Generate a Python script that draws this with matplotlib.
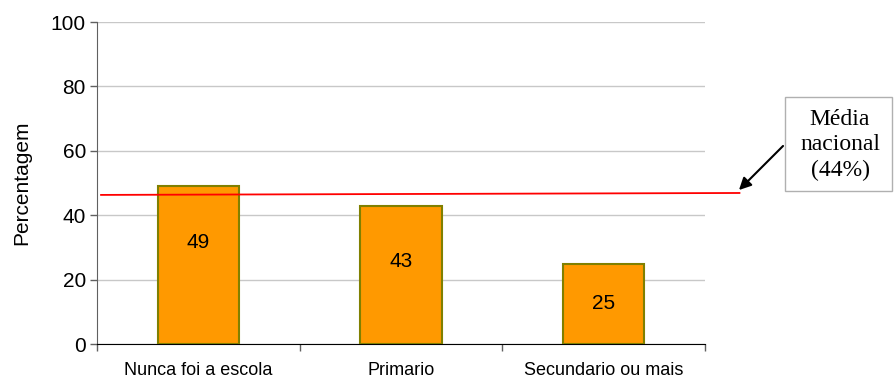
import numpy as np
import matplotlib.pyplot as plt
from matplotlib.patches import FancyArrowPatch, Rectangle

# data
categories = ['Nunca foi a escola', 'Primario', 'Secundario ou mais']
values = [49, 43, 25]
national_line_x = [-0.48, 2.67]
national_line_y = [46.3, 46.9]
box_text = 'Média\nnacional\n(44%)'

plt.rcParams['font.family'] = ['Liberation Sans', 'DejaVu Sans']

fig = plt.figure(figsize=(8.94, 3.83), dpi=100)
ax = fig.add_axes([97 / 894, 39 / 383, 608 / 894, 322 / 383])

x = np.arange(len(categories))
ax.bar(x, values, width=0.4, color='#FF9900', edgecolor='#808000', linewidth=1.5, zorder=3)

# value labels inside bars
for xi, v in zip(x, values):
    ax.text(xi, max(v - 17.5, v / 2), str(v), ha='center', va='center', fontsize=15, zorder=4)

# national average line, running past the plot edge
ax.plot(national_line_x, national_line_y, color='red', linewidth=1.3, clip_on=False, zorder=5)

ax.set_xlim(-0.5, 2.5)
ax.set_ylim(0, 100)
ax.set_yticks(range(0, 101, 20))
ax.tick_params(axis='y', labelsize=15, length=5, width=1, color='#606060', pad=3)
ax.yaxis.grid(True, color='#C8C8C8', linewidth=1)
ax.set_axisbelow(True)

# category labels between boundary ticks
ax.set_xticks([-0.5, 0.5, 1.5, 2.5])
ax.set_xticklabels([])
ax.set_xticks(x, minor=True)
ax.set_xticklabels(categories, minor=True, fontsize=13)
ax.tick_params(axis='x', which='major', length=5, width=1, color='#606060')
ax.tick_params(axis='x', which='minor', length=0, pad=13)

ax.set_ylabel('Percentagem', fontsize=15, labelpad=14)

for s in ['top', 'right']:
    ax.spines[s].set_visible(False)
ax.spines['left'].set_color('#606060')
ax.spines['bottom'].set_color('black')

# annotation box on the right
fig.patches.append(Rectangle((785 / 894, 1 - 191 / 383), 107 / 894, 94 / 383,
                             transform=fig.transFigure, facecolor='white',
                             edgecolor='#B0B0B0', linewidth=1))
fig.text(840 / 894, 1 - 145 / 383, box_text, ha='center', va='center',
         family='Liberation Serif', fontsize=17, linespacing=1.25)
fig.add_artist(FancyArrowPatch(
    (785 / 894, 1 - 144 / 383), (737 / 894, 1 - 192 / 383),
    transform=fig.transFigure, arrowstyle='-|>', mutation_scale=18,
    color='black', linewidth=1.5))

fig.savefig('out.png', dpi=100)
